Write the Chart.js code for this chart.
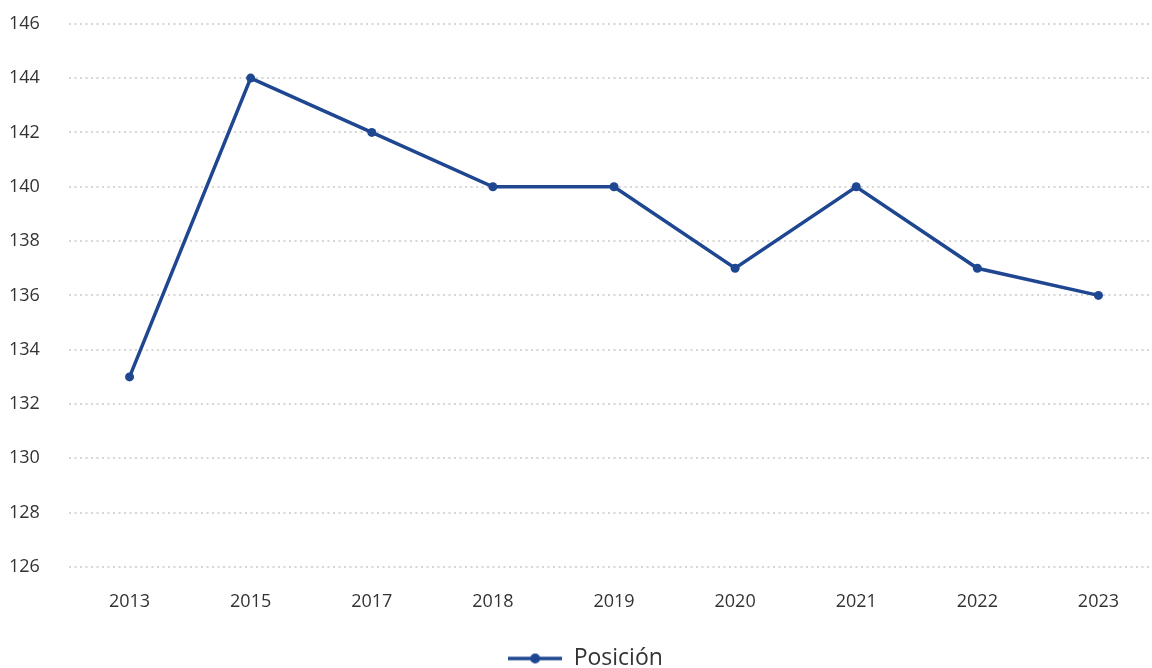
<!DOCTYPE html>
<html>
<head>
<meta charset="utf-8">
<script src="https://cdn.jsdelivr.net/npm/chart.js@4.4.0/dist/chart.umd.min.js"></script>
<style>
    html, body { margin: 0; padding: 0; background: #fff; overflow: hidden; }
    #wrap { width: 1164px; height: 695px; margin-top: -15px; position: relative; }
</style>
</head>
<body>
<div id="wrap"><canvas id="rankChart"></canvas></div>
<script>
// Chart data
const years = ['2013', '2015', '2017', '2018', '2019', '2020', '2021', '2022', '2023'];
const positions = [133, 144, 142, 140, 140, 137, 140, 137, 136];
const yTicks = [126, 128, 130, 132, 134, 136, 138, 140, 142, 144, 146];

const lineColor = '#1f4690';

// Legend marker: short line with a dot in the middle
function makeLegendMarker() {
    const c = document.createElement('canvas');
    c.width = 54;
    c.height = 12;
    const g = c.getContext('2d');
    g.strokeStyle = lineColor;
    g.lineWidth = 3.5;
    g.beginPath();
    g.moveTo(0, 6);
    g.lineTo(54, 6);
    g.stroke();
    g.fillStyle = lineColor;
    g.beginPath();
    g.arc(27, 6, 5, 0, Math.PI * 2);
    g.fill();
    return c;
}

document.addEventListener('DOMContentLoaded', function() {
    const ctx = document.getElementById('rankChart').getContext('2d');

    new Chart(ctx, {
        type: 'line',
        data: {
            labels: years,
            datasets: [{
                label: 'Posición',
                data: positions,
                borderColor: lineColor,
                backgroundColor: lineColor,
                borderWidth: 3.5,
                pointRadius: 4.5,
                pointHoverRadius: 5,
                pointBackgroundColor: lineColor,
                pointBorderWidth: 0,
                tension: 0
            }]
        },
        options: {
            responsive: true,
            maintainAspectRatio: false,
            animation: false,
            layout: {
                padding: { top: 8, left: 9, right: 2, bottom: 0 }
            },
            plugins: {
                legend: {
                    position: 'bottom',
                    labels: {
                        usePointStyle: true,
                        pointStyle: makeLegendMarker(),
                        pointStyleWidth: 54,
                        padding: 0,
                        color: '#333333',
                        font: { family: 'Open Sans', size: 23 }
                    }
                },
                tooltip: { enabled: false }
            },
            scales: {
                x: {
                    offset: true,
                    grid: { display: false, drawTicks: false },
                    border: { display: false },
                    ticks: {
                        padding: 24,
                        color: '#333333',
                        font: { family: 'Open Sans', size: 18 }
                    },
                    afterFit: function(scale) {
                        scale.height = 80;
                    }
                },
                y: {
                    min: 126,
                    max: 146,
                    afterBuildTicks: function(scale) {
                        scale.ticks = yTicks.map(v => ({ value: v }));
                    },
                    grid: {
                        color: '#d6d6d6',
                        lineWidth: 2,
                        drawTicks: false
                    },
                    border: { display: false, dash: [2, 3.5] },
                    ticks: {
                        crossAlign: 'far',
                        padding: 28,
                        color: '#333333',
                        font: { family: 'Open Sans', size: 18 }
                    },
                    afterFit: function(scale) {
                        scale.width = 60;
                    }
                }
            }
        }
    });
});
</script>
</body>
</html>
